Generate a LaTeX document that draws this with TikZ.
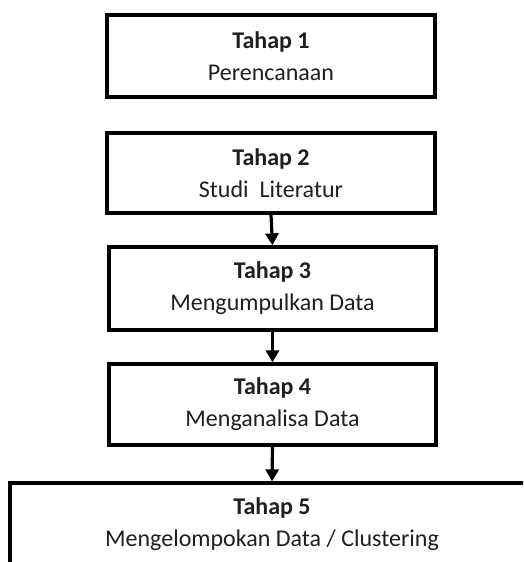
\documentclass[tikz,border=0pt]{standalone}
\usepackage{fontspec}
\setmainfont{Carlito}
\usetikzlibrary{arrows.meta}
\begin{document}
\begin{tikzpicture}[x=1pt,y=-1pt,
  stagebox/.style={draw=black, line width=3.2pt, fill=white, align=center, inner sep=0pt,
    font=\fontsize{24}{32}\selectfont, text=black!88},
  flowarrow/.style={line width=3.2pt, -{Triangle[width=13pt,length=12pt]}}]
\clip (0,0) rectangle (523,562);
\fill[white] (0,0) rectangle (523,562);
\node[stagebox, minimum width=328pt, minimum height=82pt] (t1) at (271,56) {\textbf{Tahap 1}\\Perencanaan};
\node[stagebox, minimum width=328pt, minimum height=80pt] (t2) at (271,173) {\textbf{Tahap 2}\\Studi\ \ Literatur};
\node[stagebox, minimum width=327pt, minimum height=83pt] (t3) at (272.5,288.5) {\textbf{Tahap 3}\\Mengumpulkan Data};
\node[stagebox, minimum width=327pt, minimum height=81pt] (t4) at (272.5,404.5) {\textbf{Tahap 4}\\Menganalisa Data};
\node[stagebox, minimum width=524pt, minimum height=82pt] (t5) at (272,524) {\textbf{Tahap 5}\\Mengelompokan Data / Clustering};
\draw[flowarrow] (t2.south) -- (t3.north);
\draw[flowarrow] (t3.south) -- (t4.north);
\draw[flowarrow] (t4.south) -- (t5.north);
\end{tikzpicture}
\end{document}
